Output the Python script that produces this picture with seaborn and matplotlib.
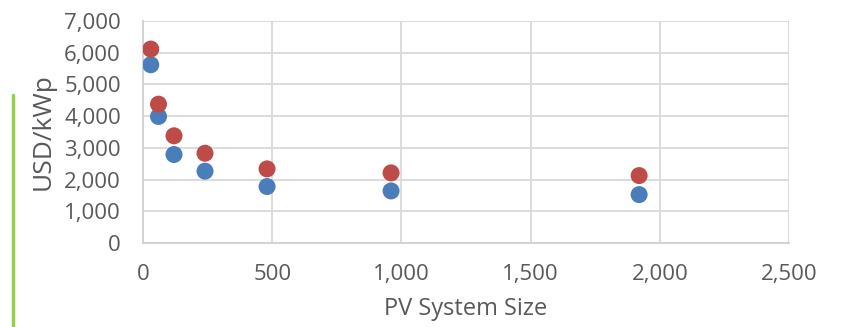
import matplotlib
matplotlib.use("Agg")
import matplotlib.pyplot as plt
from matplotlib.ticker import FuncFormatter, MultipleLocator
from matplotlib.lines import Line2D
import seaborn as sns
import pandas as pd

# PV system size and installed cost per kWp for two cost cases
system_size = [30, 60, 120, 240, 480, 960, 1920]
cost_low = [5620, 3990, 2790, 2265, 1780, 1642, 1526]
cost_high = [6115, 4378, 3380, 2830, 2337, 2211, 2126]

df = pd.concat([
    pd.DataFrame({"size": system_size, "cost": cost_low, "case": "low"}),
    pd.DataFrame({"size": system_size, "cost": cost_high, "case": "high"}),
])

sns.set_theme(style="white")
plt.rcParams["font.family"] = ["Open Sans", "DejaVu Sans"]

fig = plt.figure(figsize=(8.44, 3.27), dpi=100)
ax = fig.add_axes([143 / 844, 1 - 243 / 327, 646 / 844, 222 / 327])

sns.scatterplot(data=df, x="size", y="cost", hue="case",
                palette={"low": "#4A7EBB", "high": "#BE4B48"},
                s=150, edgecolor="none", legend=False, ax=ax, zorder=3)

ax.set_xlim(0, 2500)
ax.set_ylim(0, 7000)
ax.xaxis.set_major_locator(MultipleLocator(500))
ax.yaxis.set_major_locator(MultipleLocator(1000))
fmt = FuncFormatter(lambda v, p: f"{int(v):,}")
ax.xaxis.set_major_formatter(fmt)
ax.yaxis.set_major_formatter(fmt)

ax.grid(True, color="#D9D9D9", linewidth=1.3)
ax.set_axisbelow(True)
for side in ["top", "right"]:
    ax.spines[side].set_visible(False)
for side in ["left", "bottom"]:
    ax.spines[side].set_color("#D0D0D0")
    ax.spines[side].set_linewidth(1.3)

ax.tick_params(axis="both", length=0, labelsize=16, labelcolor="#595959")
ax.tick_params(axis="y", pad=16)
ax.tick_params(axis="x", pad=15)

ax.set_xlabel("PV System Size", fontsize=17, color="#595959", labelpad=9)
ax.set_ylabel("USD/kWp", fontsize=19, color="#595959", labelpad=6)

# accent bar at the left edge
fig.add_artist(Line2D([13 / 844, 13 / 844], [0, 1 - 95 / 327],
                      transform=fig.transFigure, color="#92D050", linewidth=2.5))

fig.savefig("out.png", dpi=100)
